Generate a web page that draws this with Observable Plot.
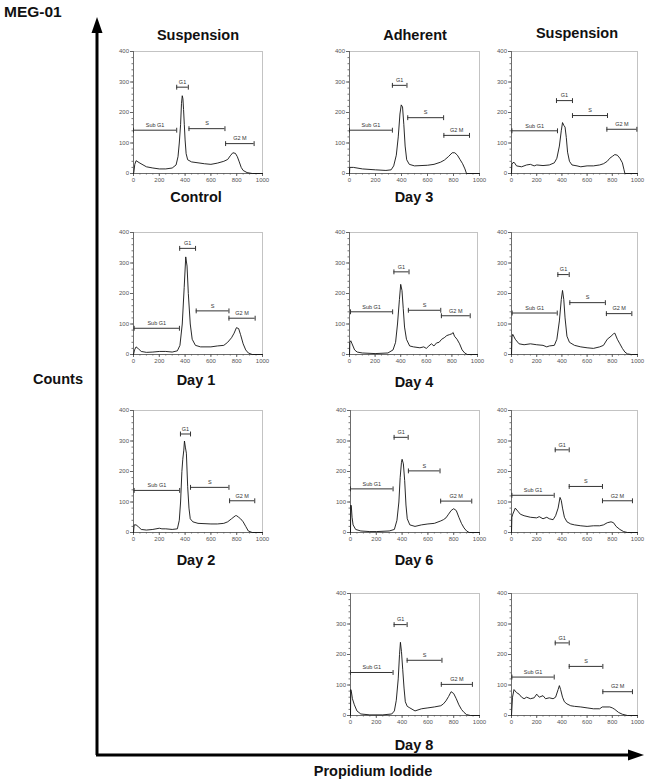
<!DOCTYPE html>
<html>
<head>
<meta charset="utf-8">
<script src="https://cdn.jsdelivr.net/npm/d3@7"></script>
<script src="https://cdn.jsdelivr.net/npm/@observablehq/plot@0.6"></script>
<style>
  body { margin: 0; background: #fff; }
  #fig { position: relative; width: 648px; height: 784px; font-family: "Liberation Sans", Arial, sans-serif; }
  .lbl { position: absolute; transform: translate(-50%, -50%); font-weight: bold; font-size: 14.5px; color: #111; white-space: nowrap; }
  .panel { position: absolute; }
  .panel svg { overflow: visible; }
</style>
</head>
<body>
<div id="fig"></div>
<script>
// ---------- data ----------
const xTicks = [0, 200, 400, 600, 800, 1000];
const yTicks = [0, 100, 200, 300, 400];
const gateNames = ["Sub G1", "G1", "S", "G2 M"];

// histogram curves: [PI channel, counts]
const suspControl = [[0,0],[3,5],[10,30],[20,42],[35,38],[50,34],[100,22],[150,18],[200,15],[250,15],[300,18],[330,28],[345,55],[355,100],[365,160],[372,230],[378,255],[383,245],[388,210],[394,160],[400,110],[408,65],[420,45],[450,38],[500,35],[550,32],[600,30],[650,34],[700,40],[730,46],[750,58],[770,68],[790,66],[805,55],[820,38],[835,20],[850,10],[880,3],[920,0],[1000,0]];
const adhDay3 = [[0,0],[2,20],[30,20],[100,15],[200,12],[280,10],[320,12],[340,25],[360,60],[375,120],[388,195],[398,225],[408,218],[418,160],[428,90],[440,45],[460,30],[500,25],[600,27],[650,30],[700,37],[730,44],[760,55],[790,68],[810,68],[830,60],[850,46],[870,32],[888,15],[900,0],[1000,0]];
const suspDay3 = [[0,0],[3,30],[12,36],[22,36],[40,25],[80,22],[120,28],[150,30],[180,25],[200,28],[250,26],[300,28],[340,35],[360,50],[380,90],[395,140],[405,167],[415,158],[425,152],[435,118],[445,70],[460,40],[480,28],[520,25],[550,22],[600,25],[650,25],[700,28],[730,32],[760,40],[780,50],[800,56],[820,62],[840,60],[860,50],[880,35],[893,12],[900,0],[1000,0]];
const suspDay1 = [[0,0],[8,15],[20,25],[40,18],[60,10],[100,7],[150,8],[200,10],[250,10],[300,8],[340,12],[360,30],[378,100],[393,220],[405,320],[415,290],[425,200],[440,100],[455,50],[480,30],[520,25],[600,25],[650,28],[700,30],[730,40],[760,55],[780,70],[798,88],[815,85],[830,65],[850,35],[870,15],[890,5],[920,0],[1000,0]];
const adhDay4 = [[0,0],[3,40],[10,45],[20,35],[40,15],[60,8],[100,5],[200,3],[300,5],[340,15],[360,40],[375,100],[390,180],[400,230],[410,210],[420,150],[430,90],[445,50],[470,28],[500,25],[550,22],[580,25],[600,20],[620,28],[640,35],[660,28],[680,38],[700,40],[720,50],[740,55],[760,62],[780,65],[800,68],[810,72],[820,60],[840,50],[860,35],[880,15],[900,5],[920,0],[1000,0]];
const suspDay4 = [[0,0],[4,58],[10,66],[30,50],[60,35],[100,32],[150,35],[200,32],[250,30],[280,25],[300,28],[340,30],[360,50],[380,110],[395,180],[405,210],[415,180],[425,120],[440,60],[460,40],[500,30],[550,25],[600,22],[650,20],[700,25],[730,30],[760,50],[790,60],[810,68],[820,70],[840,50],[860,35],[880,20],[900,8],[920,2],[950,0],[1000,0]];
const suspDay2 = [[0,0],[5,25],[20,25],[40,18],[60,10],[100,8],[150,10],[200,14],[220,12],[250,12],[300,10],[340,12],[355,40],[365,100],[375,200],[382,240],[390,270],[395,300],[402,280],[410,260],[420,150],[430,80],[440,45],[460,35],[500,30],[600,28],[650,28],[700,30],[730,35],[760,45],[790,55],[800,55],[815,50],[830,45],[850,35],[870,20],[890,5],[920,0],[1000,0]];
const adhDay6 = [[0,0],[2,90],[6,88],[12,50],[20,25],[40,10],[80,5],[150,3],[200,3],[300,5],[340,10],[360,40],[375,100],[385,180],[395,230],[400,240],[410,225],[420,170],[430,90],[440,45],[460,25],[500,20],[550,25],[600,28],[650,30],[700,38],[720,42],[740,48],[760,60],[780,72],[800,78],[820,72],[840,50],[860,30],[880,15],[900,5],[920,0],[1000,0]];
const suspDay6 = [[0,0],[3,50],[10,60],[30,80],[50,70],[70,60],[100,55],[150,50],[200,48],[220,52],[250,45],[280,50],[300,45],[330,42],[350,55],[370,80],[385,115],[395,105],[405,80],[420,50],[440,35],[470,28],[500,25],[550,22],[600,20],[650,22],[700,22],[730,25],[760,32],[790,35],[810,32],[830,20],[860,10],[890,3],[920,0],[1000,0]];
const adhDay8 = [[0,0],[2,85],[6,80],[15,55],[30,35],[50,15],[80,5],[150,2],[250,2],[320,5],[340,15],[355,50],[370,120],[380,200],[387,240],[395,210],[405,150],[415,90],[425,45],[440,30],[460,25],[500,15],[550,22],[600,25],[650,28],[700,32],[720,38],[740,48],[760,62],[780,78],[800,72],[820,55],[840,35],[860,20],[880,10],[900,3],[930,0],[1000,0]];
const suspDay8 = [[0,0],[8,60],[20,85],[40,75],[60,70],[80,60],[100,55],[120,60],[150,55],[180,58],[200,70],[220,60],[250,65],[270,55],[300,58],[330,55],[350,60],[370,85],[380,98],[390,85],[405,60],[420,45],[440,38],[470,32],[500,30],[550,28],[600,25],[650,22],[700,22],[720,28],[750,28],[780,28],[800,25],[820,20],[850,10],[880,4],[920,0],[1000,0]];

// gate markers per panel: [x1, x2, y] for Sub G1, G1, S, G2 M
const gatesControl = [[0,335,142],[335,425,283],[430,709,147],[714,935,98]];
const gatesAdhDay3 = [[0,330,142],[330,442,289],[448,724,183],[726,923,125]];
const gatesSuspDay3 = [[3,365,140],[357,484,239],[484,762,190],[757,995,145]];
const gatesSuspDay1 = [[5,356,86],[358,481,348],[486,740,143],[740,943,119]];
const gatesAdhDay4 = [[8,337,140],[347,465,271],[460,713,145],[718,943,127]];
const gatesSuspDay4 = [[5,363,136],[368,458,262],[463,745,170],[753,955,134]];
const gatesSuspDay2 = [[5,358,138],[364,442,323],[442,740,148],[745,940,104]];
const gatesAdhDay6 = [[0,330,143],[338,447,312],[449,694,202],[699,940,103]];
const gatesSuspDay6 = [[3,339,122],[347,458,271],[458,722,151],[722,960,104]];
const gatesAdhDay8 = [[0,330,141],[338,439,298],[439,709,181],[704,945,102]];
const gatesSuspDay8 = [[3,339,126],[347,458,238],[458,725,161],[725,960,78]];

// ---------- layout ----------
const ML = 22, MR = 8, MT = 6, MB = 14, PH = 122;
const panels = [
  {curve: suspControl, gates: gatesControl,  left: 133, top: 51,  w: 129},
  {curve: adhDay3,     gates: gatesAdhDay3,  left: 349, top: 51,  w: 130},
  {curve: suspDay3,    gates: gatesSuspDay3, left: 511, top: 51,  w: 126},
  {curve: suspDay1,    gates: gatesSuspDay1, left: 133, top: 232, w: 129},
  {curve: adhDay4,     gates: gatesAdhDay4,  left: 349, top: 232, w: 128},
  {curve: suspDay4,    gates: gatesSuspDay4, left: 511, top: 232, w: 126},
  {curve: suspDay2,    gates: gatesSuspDay2, left: 133, top: 410, w: 129},
  {curve: adhDay6,     gates: gatesAdhDay6,  left: 350, top: 410, w: 129},
  {curve: suspDay6,    gates: gatesSuspDay6, left: 511, top: 410, w: 126},
  {curve: adhDay8,     gates: gatesAdhDay8,  left: 350, top: 593, w: 129},
  {curve: suspDay8,    gates: gatesSuspDay8, left: 511, top: 593, w: 126}
];

const labels = [
  {t: "Suspension", x: 198, y: 35}, {t: "Adherent", x: 415, y: 35}, {t: "Suspension", x: 577, y: 33},
  {t: "Control", x: 196, y: 197}, {t: "Day 3", x: 414, y: 197},
  {t: "Day 1", x: 196, y: 380}, {t: "Day 4", x: 414, y: 382},
  {t: "Day 2", x: 196, y: 560}, {t: "Day 6", x: 414, y: 560},
  {t: "Day 8", x: 414, y: 745},
  {t: "Counts", x: 58, y: 379},
  {t: "Propidium Iodide", x: 373, y: 771}
];

const fig = document.getElementById("fig");
const fmt = d => String(d);

function makePanel(p) {
  const gates = p.gates.map((g, i) => ({x1: g[0], x2: g[1], y: g[2], label: gateNames[i]}));
  const caps = gates.flatMap(g => [{x: g.x1, y: g.y}, {x: g.x2, y: g.y}]);
  const capH = 8;
  return Plot.plot({
    width: ML + p.w + MR,
    height: MT + PH + MB,
    marginLeft: ML, marginRight: MR, marginTop: MT, marginBottom: MB,
    x: {domain: [0, 1000]},
    y: {domain: [0, 400]},
    style: {fontFamily: "'Liberation Sans', Arial, sans-serif", fontSize: "6px", color: "#555", background: "transparent"},
    marks: [
      Plot.frame({stroke: "#aaa", strokeWidth: 0.7}),
      Plot.axisX({ticks: d3.range(0, 1001, 50), tickSize: 1.5, tickFormat: () => "", label: null, stroke: "#777"}),
      Plot.axisY({ticks: d3.range(0, 401, 20), tickSize: 1.5, tickFormat: () => "", label: null, stroke: "#777"}),
      Plot.axisX({ticks: xTicks, tickFormat: fmt, tickSize: 3, tickPadding: 1.5, label: null, fontSize: 6, stroke: "#666", fill: "#555"}),
      Plot.axisY({ticks: yTicks, tickFormat: fmt, tickSize: 3, tickPadding: 1.5, label: null, fontSize: 6, stroke: "#666", fill: "#555"}),
      Plot.ruleX([0], {stroke: "#555", strokeWidth: 0.8}),
      Plot.ruleY([0], {stroke: "#555", strokeWidth: 0.8}),
      Plot.line(p.curve, {x: d => d[0], y: d => d[1], stroke: "#111", strokeWidth: 0.9}),
      Plot.ruleY(gates, {y: "y", x1: "x1", x2: "x2", stroke: "#333", strokeWidth: 1}),
      Plot.link(caps, {x1: "x", x2: "x", y1: d => d.y - capH, y2: d => d.y + capH, stroke: "#333", strokeWidth: 1}),
      Plot.text(gates, {x: d => (d.x1 + d.x2) / 2, y: "y", text: "label", dy: -5, fontSize: 5.5, fill: "#333"})
    ]
  });
}

for (const p of panels) {
  const div = document.createElement("div");
  div.className = "panel";
  div.style.left = (p.left - ML) + "px";
  div.style.top = (p.top - MT) + "px";
  div.appendChild(makePanel(p));
  fig.appendChild(div);
}

// outer axis arrows
const ns = "http://www.w3.org/2000/svg";
const svg = document.createElementNS(ns, "svg");
svg.setAttribute("width", 648); svg.setAttribute("height", 784);
svg.style.position = "absolute"; svg.style.left = "0"; svg.style.top = "0";
svg.innerHTML = `
  <line x1="97" y1="30" x2="97" y2="755" stroke="#000" stroke-width="3"/>
  <polygon points="97,17 91.5,33 102.5,33" fill="#000"/>
  <line x1="96" y1="755" x2="630" y2="755" stroke="#000" stroke-width="3"/>
  <polygon points="644,755 628,749.5 628,760.5" fill="#000"/>`;
fig.appendChild(svg);

const title = document.createElement("div");
title.textContent = "MEG-01";
title.style.cssText = "position:absolute;left:4px;top:3px;font-weight:bold;font-size:15.5px;color:#111;";
fig.appendChild(title);

for (const l of labels) {
  const d = document.createElement("div");
  d.className = "lbl";
  d.textContent = l.t;
  d.style.left = l.x + "px";
  d.style.top = l.y + "px";
  fig.appendChild(d);
}
</script>
</body>
</html>
